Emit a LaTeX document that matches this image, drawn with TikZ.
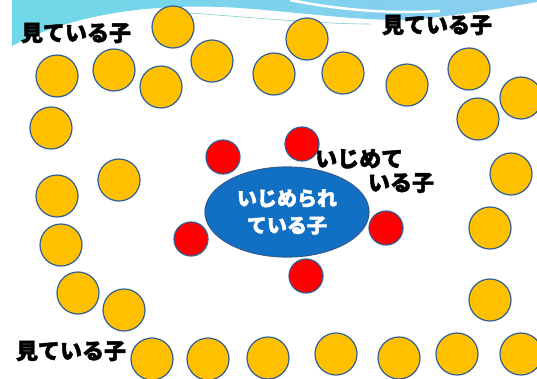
\documentclass[tikz,border=0pt]{standalone}
\usepackage{fontspec}
\newfontfamily\jp[BoldFeatures={FakeBold=2}]{Noto Sans CJK JP}
\definecolor{kidyellow}{HTML}{FFC000}
\definecolor{rimblue}{HTML}{2F5F96}
\definecolor{bullyred}{HTML}{FF0000}
\definecolor{victimblue}{HTML}{1170C4}
\definecolor{skyleft}{HTML}{6FD8E8}
\definecolor{skyright}{HTML}{8CCDF0}
\definecolor{teal}{HTML}{7FD0C8}
\tikzset{
  watcher/.style={circle,draw=rimblue,fill=kidyellow,line width=1.2pt,minimum size=42pt,inner sep=0pt},
  bullier/.style={circle,draw=rimblue,fill=bullyred,line width=1.2pt,minimum size=34pt,inner sep=0pt},
  victim/.style={ellipse,draw=rimblue,fill=victimblue,line width=1.2pt,minimum width=164pt,minimum height=90pt,inner sep=0pt,
    text=white,align=center,font=\jp\bfseries\fontsize{20pt}{27pt}\selectfont},
  role/.style={inner sep=0pt,text=black,font=\jp\bfseries\fontsize{22pt}{24pt}\selectfont}
}
\usetikzlibrary{shapes.geometric}

\begin{document}
\begin{tikzpicture}[x=1pt,y=-1pt]
		\useasboundingbox (0,0) rectangle (537,378);
		\fill [white] (0,0) rectangle (537,378);
		\shade [left color=skyleft,right color=skyright] (12,0) -- (12,46) .. controls (70,15) and (150,2) .. (240,8) .. controls (320,14) and (380,24) .. (430,18) .. controls (480,12) and (515,6) .. (537,2) -- (537,0) -- cycle;
		\draw [white,line width=2.5pt] (290,0) .. controls (340,10) and (390,14) .. (440,11);
		\draw [teal,line width=0.6pt] (190,13) .. controls (260,18) and (320,24) .. (370,24);
		%
		\node [watcher] (w1) at (173,27) {};
		\node [watcher] (w2) at (57,76) {};
		\node [watcher] (w3) at (114,70) {};
		\node [watcher] (w4) at (161,87) {};
		\node [watcher] (w5) at (212,61) {};
		\node [watcher] (w6) at (274,74) {};
		\node [watcher] (w7) at (307,39) {};
		\node [watcher] (w8) at (343,73) {};
		\node [watcher] (w9) at (407,85) {};
		\node [watcher] (w10) at (469,69) {};
		\node [watcher] (w11) at (521,98) {};
		\node [watcher] (w12) at (478,119) {};
		\node [watcher] (w13) at (511,174) {};
		\node [watcher] (w14) at (51,128) {};
		\node [watcher] (w15) at (57,196) {};
		\node [watcher] (w16) at (119,180) {};
		\node [watcher] (w17) at (61,245) {};
		\node [watcher] (w18) at (78,293) {};
		\node [watcher] (w19) at (124,310) {};
		\node [watcher] (w20) at (490,228) {};
		\node [watcher] (w21) at (490,300) {};
		\node [watcher] (w22) at (152,359) {};
		\node [watcher] (w23) at (208,359) {};
		\node [watcher] (w24) at (268,358) {};
		\node [watcher] (w25) at (336,354) {};
		\node [watcher] (w26) at (399,358) {};
		\node [watcher] (w27) at (457,354) {};
		\node [watcher] (w28) at (521,354) {};
		%
		\node [victim] (victim) at (287,212) {いじめられ\\ている子};
		\node [bullier] (b1) at (223,157) {};
		\node [bullier] (b2) at (302,144) {};
		\node [bullier] (b3) at (386,228) {};
		\node [bullier] (b4) at (306,276) {};
		\node [bullier] (b5) at (191,239) {};
		%
		\node [role] (seeTL) at (76,33) {見ている子};
		\node [role] (seeTR) at (437,25) {見ている子};
		\node [role] (seeBL) at (71,351) {見ている子};
		\node [role,align=left,anchor=west] (bullies) at (315,171) {いじめて\\\hspace*{2.4em}いる子};
	\end{tikzpicture}
\end{document}
